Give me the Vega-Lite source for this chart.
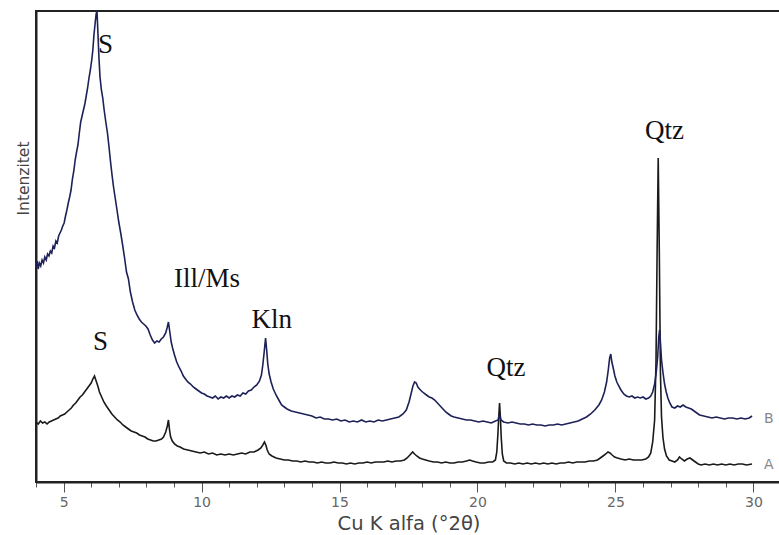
{
  "$schema": "https://vega.github.io/schema/vega-lite/v6.json",
  "autosize": "none",
  "width": 745,
  "height": 471,
  "padding": {"left": 36, "top": 11, "right": 0, "bottom": 53},
  "background": "white",
  "config": {
    "view": {"stroke": "#222", "strokeWidth": 2},
    "axis": {"grid": false}
  },
  "datasets": {
    "B": [
      {"x":4.00,"y":215},{"x":4.04,"y":221},{"x":4.08,"y":213},{"x":4.12,"y":219},{"x":4.17,"y":216},{"x":4.22,"y":222},{"x":4.27,"y":219},{"x":4.32,"y":225},{"x":4.37,"y":222},{"x":4.42,"y":228},{"x":4.47,"y":226},{"x":4.52,"y":231},{"x":4.57,"y":229},{"x":4.62,"y":236},{"x":4.67,"y":234},{"x":4.72,"y":241},{"x":4.77,"y":239},{"x":4.82,"y":246},{"x":4.87,"y":249},{"x":4.92,"y":252},{"x":4.97,"y":256},{"x":5.02,"y":259},{"x":5.07,"y":266},{"x":5.12,"y":272},{"x":5.17,"y":279},{"x":5.22,"y":285},{"x":5.27,"y":292},{"x":5.32,"y":303},{"x":5.37,"y":311},{"x":5.42,"y":322},{"x":5.47,"y":330},{"x":5.52,"y":337},{"x":5.57,"y":349},{"x":5.62,"y":360},{"x":5.67,"y":366},{"x":5.72,"y":372},{"x":5.77,"y":378},{"x":5.82,"y":386},{"x":5.87,"y":394},{"x":5.92,"y":404},{"x":5.97,"y":412},{"x":6.02,"y":422},{"x":6.06,"y":432},{"x":6.10,"y":447},{"x":6.14,"y":458},{"x":6.18,"y":468},{"x":6.21,"y":471},{"x":6.24,"y":452},{"x":6.28,"y":425},{"x":6.32,"y":405},{"x":6.37,"y":392},{"x":6.42,"y":384},{"x":6.47,"y":372},{"x":6.53,"y":360},{"x":6.59,"y":349},{"x":6.65,"y":334},{"x":6.71,"y":318},{"x":6.76,"y":306},{"x":6.81,"y":295},{"x":6.87,"y":284},{"x":6.93,"y":273},{"x":7.00,"y":260},{"x":7.07,"y":249},{"x":7.14,"y":237},{"x":7.21,"y":224},{"x":7.28,"y":210},{"x":7.35,"y":203},{"x":7.42,"y":190},{"x":7.50,"y":180},{"x":7.58,"y":172},{"x":7.66,"y":167},{"x":7.74,"y":163},{"x":7.82,"y":160},{"x":7.90,"y":158},{"x":7.98,"y":156},{"x":8.06,"y":153},{"x":8.14,"y":147},{"x":8.22,"y":142},{"x":8.30,"y":139},{"x":8.38,"y":141},{"x":8.46,"y":140},{"x":8.54,"y":143},{"x":8.62,"y":145},{"x":8.70,"y":149},{"x":8.75,"y":154},{"x":8.80,"y":160},{"x":8.85,"y":150},{"x":8.90,"y":140},{"x":8.95,"y":134},{"x":9.02,"y":127},{"x":9.10,"y":120},{"x":9.18,"y":115},{"x":9.26,"y":111},{"x":9.34,"y":106},{"x":9.42,"y":103},{"x":9.50,"y":100},{"x":9.60,"y":98},{"x":9.70,"y":95},{"x":9.80,"y":93},{"x":9.90,"y":91},{"x":10.00,"y":89},{"x":10.10,"y":88},{"x":10.20,"y":86},{"x":10.30,"y":85},{"x":10.40,"y":84},{"x":10.50,"y":86},{"x":10.60,"y":83},{"x":10.70,"y":85},{"x":10.80,"y":84},{"x":10.90,"y":86},{"x":11.00,"y":84},{"x":11.10,"y":86},{"x":11.20,"y":85},{"x":11.30,"y":87},{"x":11.40,"y":86},{"x":11.50,"y":89},{"x":11.60,"y":88},{"x":11.70,"y":91},{"x":11.80,"y":92},{"x":11.90,"y":95},{"x":12.00,"y":97},{"x":12.10,"y":101},{"x":12.17,"y":107},{"x":12.22,"y":117},{"x":12.27,"y":130},{"x":12.32,"y":144},{"x":12.36,"y":132},{"x":12.40,"y":118},{"x":12.45,"y":108},{"x":12.52,"y":100},{"x":12.60,"y":93},{"x":12.70,"y":87},{"x":12.80,"y":82},{"x":12.90,"y":77},{"x":13.00,"y":75},{"x":13.10,"y":73},{"x":13.25,"y":71},{"x":13.40,"y":70},{"x":13.55,"y":69},{"x":13.70,"y":68},{"x":13.85,"y":67},{"x":14.00,"y":66},{"x":14.15,"y":64},{"x":14.30,"y":65},{"x":14.45,"y":63},{"x":14.60,"y":63},{"x":14.75,"y":62},{"x":14.90,"y":63},{"x":15.05,"y":61},{"x":15.20,"y":62},{"x":15.35,"y":60},{"x":15.50,"y":61},{"x":15.65,"y":60},{"x":15.80,"y":62},{"x":15.95,"y":60},{"x":16.10,"y":61},{"x":16.25,"y":60},{"x":16.40,"y":62},{"x":16.55,"y":61},{"x":16.70,"y":62},{"x":16.85,"y":63},{"x":17.00,"y":64},{"x":17.15,"y":65},{"x":17.30,"y":68},{"x":17.42,"y":72},{"x":17.52,"y":80},{"x":17.60,"y":89},{"x":17.66,"y":96},{"x":17.72,"y":100},{"x":17.78,"y":99},{"x":17.84,"y":95},{"x":17.90,"y":93},{"x":17.97,"y":91},{"x":18.05,"y":89},{"x":18.15,"y":87},{"x":18.25,"y":85},{"x":18.35,"y":84},{"x":18.45,"y":82},{"x":18.55,"y":79},{"x":18.65,"y":76},{"x":18.75,"y":73},{"x":18.85,"y":70},{"x":18.95,"y":68},{"x":19.05,"y":66},{"x":19.15,"y":65},{"x":19.30,"y":64},{"x":19.45,"y":63},{"x":19.60,"y":62},{"x":19.75,"y":62},{"x":19.90,"y":61},{"x":20.05,"y":60},{"x":20.20,"y":61},{"x":20.35,"y":60},{"x":20.50,"y":59},{"x":20.65,"y":61},{"x":20.75,"y":62},{"x":20.80,"y":68},{"x":20.85,"y":62},{"x":20.95,"y":60},{"x":21.10,"y":59},{"x":21.25,"y":60},{"x":21.40,"y":59},{"x":21.55,"y":58},{"x":21.70,"y":58},{"x":21.85,"y":57},{"x":22.00,"y":58},{"x":22.15,"y":57},{"x":22.30,"y":57},{"x":22.45,"y":56},{"x":22.60,"y":57},{"x":22.75,"y":57},{"x":22.90,"y":58},{"x":23.05,"y":57},{"x":23.20,"y":58},{"x":23.35,"y":59},{"x":23.50,"y":60},{"x":23.65,"y":61},{"x":23.80,"y":63},{"x":23.95,"y":65},{"x":24.10,"y":68},{"x":24.25,"y":72},{"x":24.40,"y":77},{"x":24.50,"y":82},{"x":24.60,"y":90},{"x":24.68,"y":100},{"x":24.74,"y":112},{"x":24.79,"y":124},{"x":24.83,"y":128},{"x":24.87,"y":120},{"x":24.92,"y":114},{"x":24.98,"y":106},{"x":25.05,"y":100},{"x":25.12,"y":96},{"x":25.20,"y":92},{"x":25.30,"y":88},{"x":25.40,"y":86},{"x":25.50,"y":85},{"x":25.60,"y":86},{"x":25.70,"y":84},{"x":25.80,"y":85},{"x":25.90,"y":84},{"x":26.00,"y":85},{"x":26.10,"y":83},{"x":26.20,"y":84},{"x":26.28,"y":86},{"x":26.35,"y":90},{"x":26.42,"y":98},{"x":26.48,"y":110},{"x":26.53,"y":125},{"x":26.57,"y":145},{"x":26.60,"y":152},{"x":26.63,"y":140},{"x":26.67,"y":122},{"x":26.72,"y":110},{"x":26.78,"y":98},{"x":26.84,"y":90},{"x":26.90,"y":84},{"x":26.97,"y":79},{"x":27.05,"y":75},{"x":27.15,"y":74},{"x":27.25,"y":76},{"x":27.35,"y":75},{"x":27.45,"y":77},{"x":27.55,"y":75},{"x":27.65,"y":74},{"x":27.75,"y":73},{"x":27.85,"y":71},{"x":27.95,"y":69},{"x":28.05,"y":67},{"x":28.20,"y":66},{"x":28.35,"y":65},{"x":28.50,"y":64},{"x":28.65,"y":65},{"x":28.80,"y":64},{"x":28.95,"y":63},{"x":29.10,"y":64},{"x":29.25,"y":64},{"x":29.40,"y":63},{"x":29.55,"y":64},{"x":29.70,"y":63},{"x":29.85,"y":64},{"x":29.95,"y":66}
    ],
    "A": [
      {"x":4.00,"y":60},{"x":4.08,"y":58},{"x":4.16,"y":61},{"x":4.24,"y":59},{"x":4.32,"y":60},{"x":4.40,"y":58},{"x":4.48,"y":60},{"x":4.56,"y":61},{"x":4.64,"y":62},{"x":4.72,"y":63},{"x":4.80,"y":64},{"x":4.88,"y":66},{"x":4.96,"y":67},{"x":5.04,"y":68},{"x":5.12,"y":70},{"x":5.20,"y":72},{"x":5.28,"y":74},{"x":5.36,"y":77},{"x":5.44,"y":79},{"x":5.52,"y":82},{"x":5.60,"y":85},{"x":5.68,"y":87},{"x":5.76,"y":90},{"x":5.84,"y":93},{"x":5.92,"y":96},{"x":6.00,"y":99},{"x":6.06,"y":103},{"x":6.12,"y":106},{"x":6.18,"y":101},{"x":6.24,"y":96},{"x":6.30,"y":90},{"x":6.38,"y":85},{"x":6.46,"y":80},{"x":6.55,"y":76},{"x":6.65,"y":72},{"x":6.75,"y":68},{"x":6.85,"y":65},{"x":6.95,"y":62},{"x":7.05,"y":60},{"x":7.15,"y":57},{"x":7.25,"y":55},{"x":7.35,"y":53},{"x":7.45,"y":51},{"x":7.55,"y":50},{"x":7.65,"y":49},{"x":7.75,"y":47},{"x":7.85,"y":46},{"x":7.95,"y":45},{"x":8.05,"y":43},{"x":8.15,"y":42},{"x":8.25,"y":41},{"x":8.35,"y":41},{"x":8.45,"y":42},{"x":8.55,"y":43},{"x":8.62,"y":45},{"x":8.70,"y":50},{"x":8.76,"y":56},{"x":8.80,"y":62},{"x":8.84,"y":52},{"x":8.88,"y":45},{"x":8.94,"y":41},{"x":9.02,"y":38},{"x":9.12,"y":36},{"x":9.22,"y":35},{"x":9.35,"y":33},{"x":9.50,"y":32},{"x":9.65,"y":31},{"x":9.80,"y":30},{"x":9.95,"y":29},{"x":10.10,"y":30},{"x":10.25,"y":28},{"x":10.40,"y":29},{"x":10.55,"y":27},{"x":10.70,"y":28},{"x":10.85,"y":27},{"x":11.00,"y":28},{"x":11.15,"y":27},{"x":11.30,"y":28},{"x":11.45,"y":29},{"x":11.60,"y":28},{"x":11.75,"y":30},{"x":11.90,"y":30},{"x":12.05,"y":32},{"x":12.15,"y":34},{"x":12.22,"y":37},{"x":12.28,"y":40},{"x":12.33,"y":37},{"x":12.38,"y":32},{"x":12.45,"y":28},{"x":12.55,"y":26},{"x":12.70,"y":24},{"x":12.85,"y":23},{"x":13.00,"y":22},{"x":13.15,"y":22},{"x":13.30,"y":21},{"x":13.45,"y":21},{"x":13.60,"y":20},{"x":13.75,"y":21},{"x":13.90,"y":20},{"x":14.05,"y":20},{"x":14.20,"y":19},{"x":14.35,"y":20},{"x":14.50,"y":19},{"x":14.65,"y":19},{"x":14.80,"y":20},{"x":14.95,"y":19},{"x":15.10,"y":19},{"x":15.25,"y":18},{"x":15.40,"y":19},{"x":15.55,"y":18},{"x":15.70,"y":19},{"x":15.85,"y":19},{"x":16.00,"y":20},{"x":16.15,"y":19},{"x":16.30,"y":20},{"x":16.45,"y":20},{"x":16.60,"y":20},{"x":16.75,"y":21},{"x":16.90,"y":20},{"x":17.05,"y":21},{"x":17.20,"y":21},{"x":17.35,"y":22},{"x":17.45,"y":24},{"x":17.55,"y":27},{"x":17.65,"y":30},{"x":17.72,"y":28},{"x":17.80,"y":26},{"x":17.90,"y":24},{"x":18.00,"y":23},{"x":18.12,"y":22},{"x":18.25,"y":21},{"x":18.40,"y":20},{"x":18.55,"y":20},{"x":18.70,"y":19},{"x":18.85,"y":20},{"x":19.00,"y":19},{"x":19.15,"y":19},{"x":19.30,"y":20},{"x":19.45,"y":20},{"x":19.60,"y":21},{"x":19.72,"y":22},{"x":19.82,"y":21},{"x":19.95,"y":20},{"x":20.10,"y":19},{"x":20.25,"y":19},{"x":20.40,"y":20},{"x":20.55,"y":20},{"x":20.65,"y":22},{"x":20.70,"y":30},{"x":20.74,"y":48},{"x":20.77,"y":65},{"x":20.80,"y":79},{"x":20.83,"y":65},{"x":20.86,"y":45},{"x":20.90,"y":28},{"x":20.95,"y":21},{"x":21.05,"y":19},{"x":21.20,"y":19},{"x":21.35,"y":18},{"x":21.50,"y":19},{"x":21.65,"y":18},{"x":21.80,"y":19},{"x":21.95,"y":18},{"x":22.10,"y":19},{"x":22.25,"y":18},{"x":22.40,"y":19},{"x":22.55,"y":18},{"x":22.70,"y":19},{"x":22.85,"y":18},{"x":23.00,"y":19},{"x":23.15,"y":19},{"x":23.30,"y":20},{"x":23.45,"y":19},{"x":23.60,"y":20},{"x":23.75,"y":20},{"x":23.90,"y":20},{"x":24.05,"y":21},{"x":24.20,"y":21},{"x":24.35,"y":22},{"x":24.45,"y":24},{"x":24.55,"y":26},{"x":24.65,"y":28},{"x":24.73,"y":30},{"x":24.80,"y":29},{"x":24.88,"y":27},{"x":24.97,"y":25},{"x":25.07,"y":24},{"x":25.20,"y":23},{"x":25.35,"y":22},{"x":25.50,"y":23},{"x":25.65,"y":22},{"x":25.80,"y":22},{"x":25.95,"y":22},{"x":26.10,"y":23},{"x":26.20,"y":25},{"x":26.28,"y":29},{"x":26.35,"y":40},{"x":26.42,"y":62},{"x":26.47,"y":120},{"x":26.51,"y":230},{"x":26.55,"y":324},{"x":26.59,"y":230},{"x":26.63,"y":110},{"x":26.67,"y":65},{"x":26.72,"y":45},{"x":26.78,"y":33},{"x":26.85,"y":26},{"x":26.95,"y":22},{"x":27.05,"y":21},{"x":27.15,"y":20},{"x":27.25,"y":22},{"x":27.32,"y":25},{"x":27.40,"y":23},{"x":27.50,"y":21},{"x":27.60,"y":23},{"x":27.70,"y":24},{"x":27.80,"y":22},{"x":27.90,"y":20},{"x":28.00,"y":18},{"x":28.10,"y":17},{"x":28.25,"y":18},{"x":28.40,"y":17},{"x":28.55,"y":18},{"x":28.70,"y":17},{"x":28.85,"y":18},{"x":29.00,"y":17},{"x":29.15,"y":18},{"x":29.30,"y":17},{"x":29.45,"y":18},{"x":29.60,"y":18},{"x":29.75,"y":17},{"x":29.95,"y":18}
    ],
    "peaks": [
      {"label":"S","x":6.52,"y":429},
      {"label":"Ill/Ms","x":10.2,"y":195},
      {"label":"Kln","x":12.54,"y":154},
      {"label":"S","x":6.34,"y":132},
      {"label":"Qtz","x":21.03,"y":106},
      {"label":"Qtz","x":26.78,"y":343}
    ],
    "tags": [
      {"label":"B","x":30.38,"y":63},
      {"label":"A","x":30.38,"y":17}
    ]
  },
  "encoding": {
    "x": {
      "field": "x", "type": "quantitative",
      "scale": {"domain": [4, 31], "nice": false, "zero": false},
      "axis": {
        "title": "Cu K alfa (°2θ)",
        "values": [4,5,6,7,8,9,10,11,12,13,14,15,16,17,18,19,20,21,22,23,24,25,26,27,28,29,30,31],
        "labelExpr": "datum.value % 5 === 0 ? datum.label : ''",
        "domainColor": "#222", "domainWidth": 2,
        "tickColor": "#555", "tickWidth": 1,
        "tickSize": {"condition": {"test": "datum.value % 5 === 0", "value": 10}, "value": 5},
        "labelFont": "DejaVu Sans", "labelFontSize": 14, "labelColor": "#666", "labelPadding": 3,
        "titleFont": "DejaVu Sans", "titleFontSize": 19.5, "titleFontWeight": "normal", "titleColor": "#444",
        "titleY": 47, "titleBaseline": "alphabetic"
      }
    },
    "y": {
      "field": "y", "type": "quantitative",
      "scale": {"domain": [0, 471], "nice": false},
      "axis": {
        "title": "Intenzitet",
        "ticks": false, "labels": false,
        "domainColor": "#222", "domainWidth": 2,
        "titleFont": "DejaVu Sans", "titleFontSize": 15.5, "titleFontWeight": "normal", "titleColor": "#444",
        "titleX": -8, "titleY": 167, "titleBaseline": "alphabetic", "titleAngle": -90, "titleAlign": "center"
      }
    }
  },
  "layer": [
    {"data": {"name": "A"}, "mark": {"type": "line", "color": "#1a1a1a", "strokeWidth": 1.6, "clip": true}},
    {"data": {"name": "B"}, "mark": {"type": "line", "color": "#1d2157", "strokeWidth": 1.6, "clip": true}},
    {"data": {"name": "peaks"}, "mark": {"type": "text", "font": "Liberation Serif", "fontSize": 27, "color": "#111", "align": "center", "baseline": "alphabetic"}, "encoding": {"text": {"field": "label"}}},
    {"data": {"name": "tags"}, "mark": {"type": "text", "font": "DejaVu Sans", "fontSize": 14, "color": "#888", "align": "left", "baseline": "middle"}, "encoding": {"text": {"field": "label"}}}
  ]
}
